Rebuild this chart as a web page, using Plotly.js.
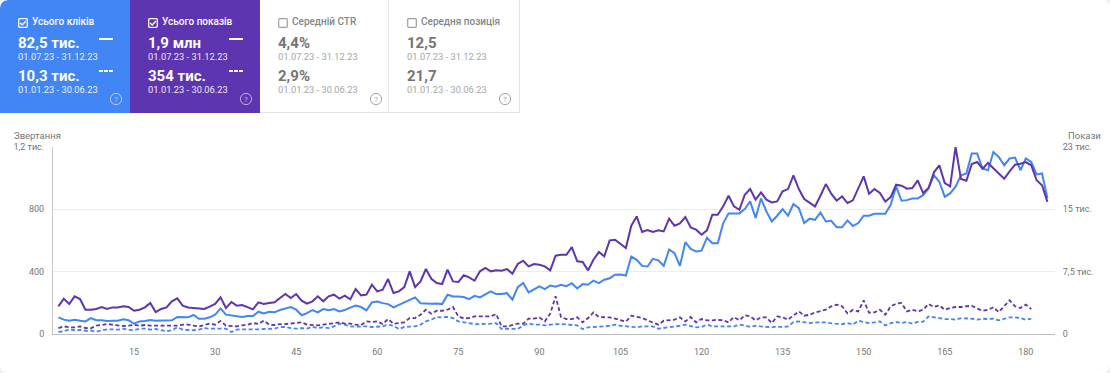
<!DOCTYPE html>
<html><head><meta charset="utf-8">
<script src="https://cdn.plot.ly/plotly-3.0.1.min.js"></script>
<style>
html,body{margin:0;padding:0;background:#eef0f3;}
body{width:1110px;height:373px;overflow:hidden;font-family:Roboto,Arial,sans-serif;}
#wrap{position:absolute;left:0;top:0;width:1110px;height:373px;background:#fff;border-radius:8px;overflow:hidden;}
#chart{position:absolute;left:0;top:0;width:1110px;height:373px;}
.card{position:absolute;top:0;height:113px;box-sizing:border-box;z-index:2;}
.card div, .card svg{position:absolute;white-space:nowrap;}
.lbl{left:32px;top:16px;font-size:10px;line-height:12px;font-weight:500;}
.val{left:18px;font-size:15px;line-height:17.5px;font-weight:700;}
.dt{left:18px;font-size:9.3px;line-height:11px;}
</style>
</head><body>
<div id="wrap"><div id="chart"></div></div>
<script>
// ---- KPI cards ----
const cardLabels = ["Усього кліків", "Усього показів", "Середній CTR", "Середня позиція"];
const cardCurrent = ["82,5 тис.", "1,9 млн", "4,4%", "12,5"];
const cardPrevious = ["10,3 тис.", "354 тис.", "2,9%", "21,7"];
const cardChecked = [true, true, false, false];
const periodCurrent = "01.07.23 - 31.12.23";
const periodPrevious = "01.01.23 - 30.06.23";

// ---- chart data (daily) ----
const curClicks = [
107,92,85,92,85,81,102,88,88,83,
85,85,94,88,66,81,83,90,85,85,
88,88,109,109,107,122,98,98,107,124,
164,124,120,117,109,115,115,143,132,143,
139,154,164,173,156,120,134,154,139,160,
152,160,145,154,169,183,173,152,203,209,
198,
192,171,188,200,220,235,198,194,194,196,
192,252,241,241,237,224,245,235,252,273,
256,256,262,220,301,328,267,284,305,288,
311,303,316,307,326,292,320,316,343,326,
348,358,380,382,375,497,476,437,433,482,
473,437,542,518,437,589,546,529,535,618,
582,582,710,774,774,774,
802,
851,744,870,787,722,759,802,759,834,808,712,
740,733,780,722,726,685,685,729,693,712,759,759,772,772,772,829,947,
855,859,870,870,891,934,1019,977,881,902,
945,1019,1030,1158,1158,1062,1051,1168,1136,1083,
1126,1132,1051,1126,1104,1024,1030,872
];
const curImpressions = [
3330,4250,3610,4530,4210,2920,2920,3010,3250,3010,
3200,3200,3330,3250,2800,2920,3200,3730,2640,3010,
3200,3930,4290,3410,3200,3120,3120,3010,3290,3610,
4410,3120,3850,3410,3490,3200,2970,3810,3610,3730,
3810,4330,4810,4330,4810,4010,3650,3930,4530,3930,
4530,4730,4250,4610,4170,5410,4650,4730,5930,5130,
5330,
6610,4930,5130,5650,7540,5650,6330,7820,6650,6130,
6010,7740,6330,6250,7060,6810,6410,7540,7940,7540,
7660,7620,7820,7260,8420,8820,8140,8420,8340,8140,
7660,9420,9540,9540,10460,8740,8660,7660,8940,9860,
9340,11270,11350,10860,10340,13030,14150,12270,12510,12270,
12470,12350,13870,13030,13310,14070,12830,12550,11950,12470,
14350,14350,15360,16640,15360,14950,
16760,
17440,16160,17040,16160,15830,15950,17160,17440,19080,17440,
16240,15830,15350,16640,18040,16880,16040,16560,15760,16080,
17560,18960,16880,17440,16960,15950,16480,17960,
17840,17480,17560,18480,16960,17560,19450,20290,18160,17760,
22490,18640,18440,20450,20690,19890,20570,19970,19250,18680,
19570,20370,20490,20690,20300,18500,17900,15900
];
const prevClicks = [
13,17,30,24,26,21,21,15,24,30,
30,28,34,26,24,34,34,28,32,24,
17,24,43,28,26,24,28,38,34,34,
38,34,13,28,30,30,26,30,32,34,
34,45,45,38,34,38,34,47,38,43,
38,49,66,60,49,47,49,49,45,49,
49,
60,53,32,45,47,49,60,81,92,109,
107,109,102,81,75,70,64,64,64,66,
70,32,34,34,32,55,68,60,60,55,
60,64,64,60,60,55,32,43,45,45,
49,53,60,53,49,45,43,49,47,49,
34,38,43,49,53,60,53,43,45,60,
49,49,53,49,49,60,
55,45,53,49,47,43,49,43,49,77,
81,75,70,75,75,75,68,68,64,70,
60,85,75,70,75,81,55,70,77,70,
77,66,77,79,113,107,102,96,96,92,
102,102,98,92,98,96,98,88,96,107,
107,102,92,98
];
const prevImpressions = [
720,920,800,800,920,720,680,1000,1080,1200,
1120,1000,960,1000,1120,1000,1080,1000,1000,920,
920,1000,1000,1120,1120,1000,920,1080,1240,1120,
1560,1000,1000,920,1040,1120,1320,1200,1600,1120,
1080,1200,1200,1280,1280,1400,1120,1040,1040,1120,
1200,1240,1400,1240,1240,1120,1080,1520,1440,1520,
1200,
1800,1240,1320,1400,1920,1920,2320,2920,2440,2800,
2800,2920,3250,2120,1880,1920,2120,2120,2200,2120,
2400,920,920,1120,1240,1240,1840,1840,2000,1520,
2440,4530,2040,1800,1800,2000,1400,1920,2600,2040,
2000,2000,1840,1640,1480,2200,2040,1920,1640,1400,
1120,1600,1640,1720,2000,1520,2040,1400,1800,1640,
1640,1720,1640,1400,2040,1640,
2240,2120,1640,2000,2000,1320,2120,2000,1720,2200,
2720,2200,2320,2600,2800,2920,3330,3530,3330,2480,
2880,2720,4050,2560,2600,2920,2320,3330,3650,3730,
2720,2920,2720,2920,3610,3250,3450,2920,3130,3250,
3250,3330,3410,3050,2800,2920,3200,2640,3330,4050,
3330,3130,3530,3010
];
const xTicks = [15,30,45,60,75,90,105,120,135,150,165,180];
const leftTickVals = [0,400,800,1200];
const leftTickText = ["0","400","800","1,2 тис."];
const rightTickVals = [0,7500,15000,22500];
const rightTickText = ["0","7,5 тис.","15 тис.","23 тис."];
const leftTitle = "Звертання";
const rightTitle = "Покази";

// ---- build cards ----
const cardLeft = [0,130,260,389];
const cardWidth = [130,130,129,131];
const cardBg = ["#4285f4","#5e35b1","#ffffff","#ffffff"];
const wrap = document.getElementById('wrap');
cardLabels.forEach((lab, i) => {
  const c = document.createElement('div');
  c.className = 'card';
  const on = cardChecked[i];
  const fg = on ? '#ffffff' : '#757575';
  const lblCol = on ? '#ffffff' : '#80868b';
  const dtCol = on ? 'rgba(255,255,255,0.92)' : '#a2a6aa';
  const iconCol = on ? 'rgba(255,255,255,0.6)' : '#a0a4a8';
  c.style.left = cardLeft[i] + 'px';
  c.style.width = cardWidth[i] + 'px';
  c.style.background = cardBg[i];
  if (i === 0) c.style.borderTopLeftRadius = '8px';
  if (!on) { c.style.borderRight = '1px solid #e3e3e3'; c.style.borderBottom = '1px solid #e3e3e3'; }
  const box = on
    ? '<svg width="10" height="10" style="left:17.5px;top:17.5px"><rect x="0.7" y="0.7" width="8.6" height="8.6" rx="1" fill="none" stroke="#fff" stroke-width="1.3"/><path d="M2.2 5.0 L4.2 7.0 L7.9 3.1" fill="none" stroke="#fff" stroke-width="1.4"/></svg>'
    : '<svg width="10" height="10" style="left:17.5px;top:17.5px"><rect x="0.7" y="0.7" width="8.6" height="8.6" rx="1" fill="none" stroke="#9e9e9e" stroke-width="1.2"/></svg>';
  let html = box;
  html += `<div class="lbl" style="color:${lblCol}">${lab}</div>`;
  html += `<div class="val" style="top:35px;color:${fg}">${cardCurrent[i]}</div>`;
  html += `<div class="dt" style="top:51px;color:${dtCol}">${periodCurrent}</div>`;
  html += `<div class="val" style="top:67.5px;color:${fg}">${cardPrevious[i]}</div>`;
  html += `<div class="dt" style="top:84px;color:${dtCol}">${periodPrevious}</div>`;
  if (on) {
    html += '<div style="left:99px;top:38px;width:14px;height:2px;background:#fff"></div>';
    html += '<div style="left:99px;top:70px;width:3.5px;height:2px;background:#fff"></div>';
    html += '<div style="left:104px;top:70px;width:3.5px;height:2px;background:#fff"></div>';
    html += '<div style="left:109px;top:70px;width:3.5px;height:2px;background:#fff"></div>';
  }
  html += `<svg width="14" height="14" style="left:108.5px;top:91.5px"><circle cx="7" cy="7" r="5.6" fill="none" stroke="${iconCol}" stroke-width="1"/><text x="7" y="9.9" font-size="8" font-family="Roboto, Arial" text-anchor="middle" fill="${iconCol}">?</text></svg>`;
  c.innerHTML = html;
  wrap.appendChild(c);
});

// ---- chart ----
const dayIdx = curClicks.map((_, i) => i + 1);
const prevIdx = prevClicks.map((_, i) => i + 1);
const BLUE = '#4285f4', PURPLE = '#5e35b1';
const traces = [
  {x: prevIdx, y: prevImpressions, yaxis: 'y2', mode: 'lines', line: {color: PURPLE, width: 1.8, dash: '4px,2.5px'}, hoverinfo: 'skip'},
  {x: prevIdx, y: prevClicks, yaxis: 'y', mode: 'lines', line: {color: BLUE, width: 1.8, dash: '4px,2.5px'}, hoverinfo: 'skip'},
  {x: dayIdx, y: curImpressions, yaxis: 'y2', mode: 'lines', line: {color: PURPLE, width: 2}, hoverinfo: 'skip'},
  {x: dayIdx, y: curClicks, yaxis: 'y', mode: 'lines', line: {color: BLUE, width: 2}, hoverinfo: 'skip'}
];
const tickFont = {family: 'Roboto, Arial, sans-serif', size: 9, color: '#757575'};
const layout = {
  width: 1110, height: 373,
  margin: {l: 53, r: 55, t: 147, b: 39, pad: 0},
  paper_bgcolor: 'rgba(0,0,0,0)', plot_bgcolor: 'rgba(0,0,0,0)',
  showlegend: false,
  font: {family: 'Roboto, Arial, sans-serif', color: '#757575', size: 9},
  xaxis: {range: [0, 185.4], tickmode: 'array', tickvals: xTicks, ticktext: xTicks.map(String),
    showgrid: false, zeroline: false, showline: true, linecolor: '#bdbdbd', linewidth: 1,
    ticks: 'outside', ticklen: 9, tickcolor: 'rgba(0,0,0,0)', tickfont: tickFont, fixedrange: true},
  yaxis: {range: [0, 1200], tickmode: 'array', tickvals: leftTickVals, ticktext: leftTickText,
    showgrid: true, gridcolor: '#ececec', gridwidth: 1, zeroline: false, showline: true, linecolor: '#c8c8c8',
    ticks: 'outside', ticklen: 6, tickcolor: 'rgba(0,0,0,0)', tickfont: tickFont, fixedrange: true},
  yaxis2: {overlaying: 'y', side: 'right', range: [0, 22500], tickmode: 'array', tickvals: rightTickVals, ticktext: rightTickText,
    showgrid: false, zeroline: false, showline: false,
    ticks: 'outside', ticklen: 5, tickcolor: 'rgba(0,0,0,0)', tickfont: tickFont, fixedrange: true},
  annotations: [
    {text: leftTitle, xref: 'paper', yref: 'paper', x: 0, y: 1, xanchor: 'left', yanchor: 'middle', xshift: -41, yshift: 12,
      showarrow: false, font: {family: 'Roboto, Arial, sans-serif', size: 9.5, color: '#757575'}},
    {text: rightTitle, xref: 'paper', yref: 'paper', x: 1, y: 1, xanchor: 'left', yanchor: 'middle', xshift: 11, yshift: 12,
      showarrow: false, font: {family: 'Roboto, Arial, sans-serif', size: 9.5, color: '#757575'}}
  ]
};
Plotly.newPlot('chart', traces, layout, {displayModeBar: false, staticPlot: true});
</script>
</body></html>
